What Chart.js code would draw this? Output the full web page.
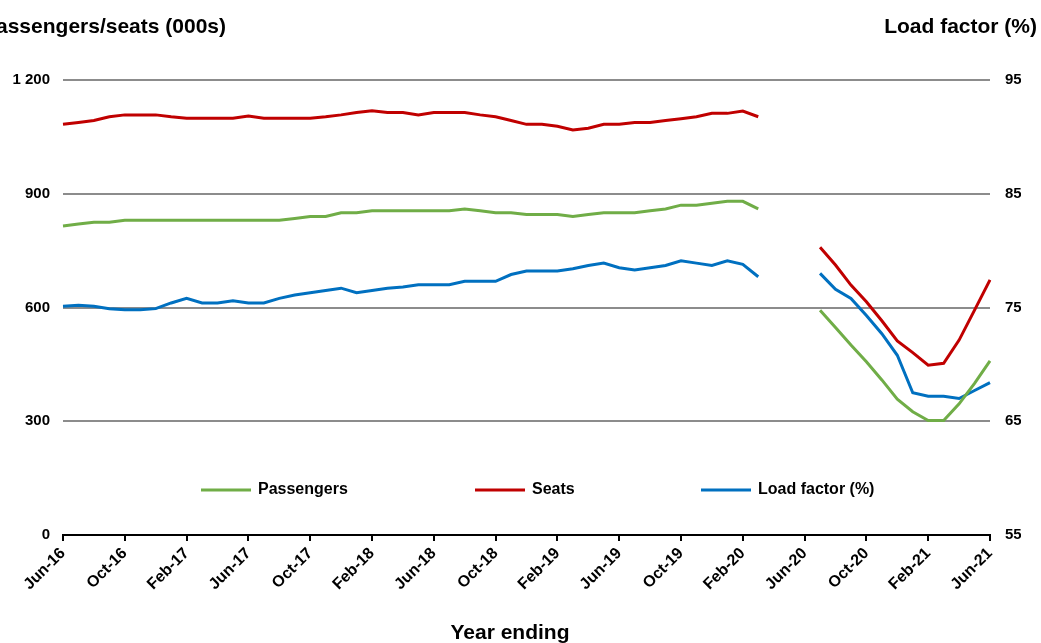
<!DOCTYPE html>
<html>
<head>
<meta charset="utf-8">
<script src="https://cdn.jsdelivr.net/npm/chart.js@4.4.1/dist/chart.umd.min.js"></script>
<style>
  html, body { margin: 0; padding: 0; background: #fff; }
  #wrap { position: relative; width: 1041px; height: 643px; }
</style>
</head>
<body>
<div id="wrap"><canvas id="lfChart"></canvas></div>
<script>
// Data (year ending, monthly) - Apr-20 to Jun-20 not reported
const months = [
  'Jun-16','Jul-16','Aug-16','Sep-16','Oct-16','Nov-16','Dec-16','Jan-17','Feb-17','Mar-17','Apr-17','May-17',
  'Jun-17','Jul-17','Aug-17','Sep-17','Oct-17','Nov-17','Dec-17','Jan-18','Feb-18','Mar-18','Apr-18','May-18',
  'Jun-18','Jul-18','Aug-18','Sep-18','Oct-18','Nov-18','Dec-18','Jan-19','Feb-19','Mar-19','Apr-19','May-19',
  'Jun-19','Jul-19','Aug-19','Sep-19','Oct-19','Nov-19','Dec-19','Jan-20','Feb-20','Mar-20','Apr-20','May-20',
  'Jun-20','Jul-20','Aug-20','Sep-20','Oct-20','Nov-20','Dec-20','Jan-21','Feb-21','Mar-21','Apr-21','May-21',
  'Jun-21'
];

const passengers = [
  815, 820, 825, 825, 830, 830, 830, 830, 830, 830, 830, 830,
  830, 830, 830, 835, 840, 840, 850, 850, 855, 855, 855, 855,
  855, 855, 860, 855, 850, 850, 845, 845, 845, 840, 845, 850,
  850, 850, 855, 860, 870, 870, 875, 880, 880, 860, null, null,
  null, 593, 547, 501, 457, 409, 358, 325, 302, 302, 346, 400,
  459
];

const seats = [
  1083, 1088, 1093, 1103, 1108, 1108, 1108, 1103, 1099, 1099, 1099, 1099,
  1105, 1099, 1099, 1099, 1099, 1103, 1108, 1114, 1119, 1114, 1114, 1108,
  1114, 1114, 1114, 1108, 1103, 1093, 1083, 1083, 1078, 1068, 1073, 1083,
  1083, 1088, 1088, 1093, 1098, 1103, 1112, 1112, 1118, 1103, null, null,
  null, 759, 712, 659, 615, 565, 512, 481, 448, 453, 514, 593,
  673
];

const loadFactor = [
  75.1, 75.2, 75.1, 74.9, 74.8, 74.8, 74.9, 75.4, 75.8, 75.4, 75.4, 75.6,
  75.4, 75.4, 75.8, 76.1, 76.3, 76.5, 76.7, 76.3, 76.5, 76.7, 76.8, 77.0,
  77.0, 77.0, 77.3, 77.3, 77.3, 77.9, 78.2, 78.2, 78.2, 78.4, 78.7, 78.9,
  78.5, 78.3, 78.5, 78.7, 79.1, 78.9, 78.7, 79.1, 78.8, 77.7, null, null,
  null, 78.0, 76.6, 75.8, 74.3, 72.7, 70.8, 67.5, 67.2, 67.2, 67.0, 67.7,
  68.4
];

const leftTicks = [0, 300, 600, 900, 1200];
const rightTicks = [55, 65, 75, 85, 95];

// Styling
const FONT = "'Liberation Sans', Arial, sans-serif";
const GREEN = '#70AD47';
const RED = '#C00000';
const BLUE = '#0070C0';
const GRID = '#8C8C8C';

function spaced(v) {
    return String(v).replace(/\B(?=(\d{3})+(?!\d))/g, ' ');
}

// Titles + in-plot legend
const annotations = {
    id: 'annotations',
    afterDraw(chart) {
        const ctx = chart.ctx;
        ctx.save();
        ctx.fillStyle = '#000';
        ctx.textBaseline = 'middle';
        ctx.font = `bold 21px ${FONT}`;
        ctx.textAlign = 'right';
        ctx.fillText('Passengers/seats (000s)', 226, 27);
        ctx.fillText('Load factor (%)', 1037, 27);
        ctx.textAlign = 'center';
        ctx.fillText('Year ending', 510, 633);

        const legendX = [201, 475, 701];
        ctx.font = `bold 16px ${FONT}`;
        ctx.textAlign = 'left';
        chart.data.datasets.forEach((ds, i) => {
            const x = legendX[i];
            const y = 490;
            ctx.strokeStyle = ds.borderColor;
            ctx.lineWidth = 3;
            ctx.beginPath();
            ctx.moveTo(x, y);
            ctx.lineTo(x + 50, y);
            ctx.stroke();
            ctx.fillText(ds.label, x + 57, y);
        });
        ctx.restore();
    }
};

const ctx = document.getElementById('lfChart').getContext('2d');
const chart = new Chart(ctx, {
    type: 'line',
    data: {
        labels: months,
        datasets: [
            { label: 'Passengers', data: passengers, borderColor: GREEN, yAxisID: 'y' },
            { label: 'Seats', data: seats, borderColor: RED, yAxisID: 'y' },
            { label: 'Load factor (%)', data: loadFactor, borderColor: BLUE, yAxisID: 'y1' }
        ]
    },
    options: {
        responsive: true,
        maintainAspectRatio: false,
        animation: false,
        spanGaps: false,
        layout: { padding: { top: 80, right: 20, bottom: 48, left: 12 } },
        elements: {
            line: { borderWidth: 3, tension: 0, fill: false },
            point: { radius: 0 }
        },
        plugins: {
            legend: { display: false },
            tooltip: { enabled: false }
        },
        scales: {
            x: {
                offset: false,
                border: { display: true, color: '#000', width: 2 },
                grid: {
                    drawOnChartArea: false,
                    drawTicks: true,
                    tickLength: 6,
                    lineWidth: 2,
                    color: (c) => (c.index % 4 === 0 ? '#000' : 'rgba(0,0,0,0)')
                },
                afterFit: (s) => { s.paddingLeft = 0; s.paddingRight = 0; s.height = 60; },
                ticks: {
                    autoSkip: false,
                    maxRotation: 45,
                    minRotation: 45,
                    padding: 3,
                    color: '#000',
                    font: { family: FONT, size: 16, weight: 'bold' },
                    callback: function (val, i) { return i % 4 === 0 ? months[i] : ''; }
                }
            },
            y: {
                position: 'left',
                min: leftTicks[0],
                max: leftTicks[leftTicks.length - 1],
                border: { display: false },
                grid: {
                    drawTicks: false,
                    lineWidth: 2,
                    color: (c) => (c.tick && c.tick.value === 0 ? 'rgba(0,0,0,0)' : GRID)
                },
                afterBuildTicks: (axis) => { axis.ticks = leftTicks.map(v => ({ value: v })); },
                afterFit: (s) => { s.width = 51; s.paddingTop = 0; s.paddingBottom = 0; },
                ticks: {
                    padding: 13,
                    color: '#000',
                    font: { family: FONT, size: 15, weight: 'bold' },
                    callback: (v) => spaced(v)
                }
            },
            y1: {
                position: 'right',
                min: rightTicks[0],
                max: rightTicks[rightTicks.length - 1],
                border: { display: false },
                grid: { drawOnChartArea: false, drawTicks: false },
                afterBuildTicks: (axis) => { axis.ticks = rightTicks.map(v => ({ value: v })); },
                afterFit: (s) => { s.width = 31; s.paddingTop = 0; s.paddingBottom = 0; },
                ticks: {
                    padding: 15,
                    color: '#000',
                    font: { family: FONT, size: 15, weight: 'bold' }
                }
            }
        }
    },
    plugins: [annotations]
});
</script>
</body>
</html>
